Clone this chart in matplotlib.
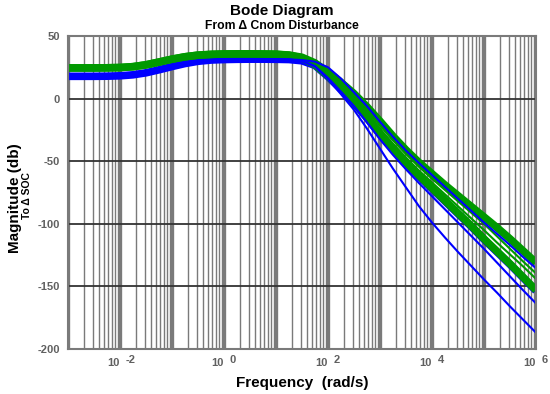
import matplotlib
matplotlib.use("Agg")
import matplotlib.pyplot as plt
import matplotlib.transforms as mtransforms

plt.rcParams['font.family'] = ['Liberation Sans', 'DejaVu Sans']
plt.rcParams['axes.unicode_minus'] = False

# frequency points (log10 of rad/s) where the magnitudes were read
log_freq = [-3, -2.75, -2.5, -2.25, -2, -1.75, -1.5, -1.25, -1, -0.75, -0.5, -0.25,
            0, 0.25, 0.5, 0.75, 1,
            1.25, 1.5, 1.75, 2, 2.25, 2.5, 2.75, 3, 3.25, 3.5, 3.75,
            4, 4.25, 4.5, 4.75, 5, 5.25, 5.5, 5.75, 6]

# low frequency part (up to 10 rad/s), shared inside each family (dB)
blue_lf = [17.8, 17.8, 17.8, 17.9, 18.2, 19, 20.6, 23, 25.6, 28, 29.8, 30.8,
           31.2, 31.4, 31.5, 31.5, 31.4]
green_lf = [24.5, 24.5, 24.5, 24.6, 24.8, 25.5, 27, 29.2, 31.5, 33.4, 34.7, 35.3,
            35.6, 35.7, 35.7, 35.6, 35.4]

# roll-off part, 10^1.25 .. 10^6 rad/s (dB)
blue_band_hf = [31.2, 30.2, 26.5, 17.5, 7.5, -3.5, -15.5, -28.5, -40.5, -51.5, -62,
                -72, -82, -92, -102, -112.5, -122.5, -132.5, -143, -153.5]
blue_top_hf = [31.3, 30.8, 29.5, 25, 16, 5, -6, -18.5, -30.5, -41.5, -51.5,
               -61, -70.5, -80, -89.5, -99, -108, -117, -126.5, -135.5]
blue_mid_hf = [31.2, 30.2, 26, 16.5, 5.5, -6, -19, -32.5, -45, -56.5, -67.5,
               -78, -88.5, -99, -109.5, -120, -131, -142, -153, -163.6]
blue_low_hf = [31.2, 30, 25.5, 15.5, 3.5, -9, -24, -40, -56, -71, -86,
               -99, -111, -122.5, -133.5, -144.5, -155, -166, -176.5, -187]
green_top_hf = [34.8, 33, 28.5, 21, 13, 4, -6.5, -18, -30, -41, -51,
                -60, -69, -77.5, -86, -94.5, -103, -112, -121.5, -131]
green_2_hf = [34.8, 33, 28, 20, 11.5, 2, -9, -21, -33, -44, -54.5,
              -64, -73, -82, -91, -100, -110, -120, -130, -139.6]
green_3_hf = [34.8, 32.8, 27.5, 19, 10, 0, -11, -24, -36, -47, -57.5,
              -67, -76.5, -86, -95.5, -105, -115, -124.5, -134, -144]
green_low_hf = [34.6, 32.5, 27, 18, 8, -3, -15, -28, -40, -51, -61.5,
                -71.5, -81.5, -91.5, -101.5, -112, -122, -132, -142.5, -153]

freq = [10.0 ** p for p in log_freq]

fig = plt.figure(figsize=(5.5, 3.94), dpi=100)
ax = fig.add_axes([68 / 550, 1 - 349 / 394, (536 - 68) / 550, (349 - 36) / 394])

# grid: a line on every minor step, dark lines on the y ticks
for d in range(-3, 6):
    for m in range(1, 10):
        lw = 2.4 if m == 1 else 1.0
        ax.axvline(m * 10.0 ** d, color='#7a7a7a', lw=lw, zorder=0)
for yv in [0, -50, -100, -150]:
    ax.axhline(yv, color='#333333', lw=1.3, zorder=0)

thick = dict(lw=5.5, solid_capstyle='butt')
ax.semilogx(freq, blue_lf + blue_band_hf, color='#0000ff', **thick)
ax.semilogx(freq, green_lf + green_top_hf, color='#009900', **thick)
ax.semilogx(freq, green_lf + green_low_hf, color='#009900', **thick)
ax.semilogx(freq, green_lf + green_2_hf, color='#009900', lw=1.5)
ax.semilogx(freq, green_lf + green_3_hf, color='#009900', lw=1.5)
ax.semilogx(freq, blue_lf + blue_top_hf, color='#0000ff', lw=1.5)
ax.semilogx(freq, blue_lf + blue_mid_hf, color='#0000ff', lw=1.5)
ax.semilogx(freq, blue_lf + blue_low_hf, color='#0000ff', lw=1.5)

ax.set_xlim(1e-3, 1e6)
ax.set_ylim(-200, 50)

# x tick labels written as "10" plus a raised exponent
xt = [1e-2, 1, 1e2, 1e4, 1e6]
xt_exp = ['-2', '0', '2', '4', '6']
ax.set_xticks(xt)
ax.set_xticklabels([])
ax.minorticks_off()
trans = mtransforms.blended_transform_factory(ax.transData, fig.transFigure)
trans_exp = mtransforms.offset_copy(trans, fig=fig, x=6, y=0, units='dots')
for x, e in zip(xt, xt_exp):
    ax.text(x, 1 - 363 / 394, '10', transform=trans, ha='right', va='center',
            fontsize=8, fontweight='bold', color='#606060', clip_on=False)
    ax.text(x, 1 - 360 / 394, e, transform=trans_exp, ha='left', va='center',
            fontsize=8, fontweight='bold', color='#606060', clip_on=False)

ax.set_yticks([50, 0, -50, -100, -150, -200])
ax.tick_params(length=0, colors='#606060', labelsize=8, pad=6)
for lab in ax.get_yticklabels():
    lab.set_fontweight('bold')

for sp in ax.spines.values():
    sp.set_color('#7a7a7a')
    sp.set_linewidth(1.5)

fig.text(282 / 550, 1 - 11 / 394, 'Bode Diagram', ha='center', va='center',
         fontsize=11, fontweight='bold')
fig.text(282 / 550, 1 - 26 / 394, 'From \u0394 Cnom Disturbance', ha='center', va='center',
         fontsize=8.7, fontweight='bold')
fig.text(302 / 550, 1 - 383 / 394, 'Frequency  (rad/s)', ha='center', va='center',
         fontsize=11, fontweight='bold')
fig.text(15 / 550, 1 - 198 / 394, 'Magnitude (db)', ha='center', va='center',
         rotation=90, fontsize=11, fontweight='bold')
fig.text(27 / 550, 1 - 196 / 394, 'To \u0394 SOC', ha='center', va='center',
         rotation=90, fontsize=7.5, fontweight='bold')

fig.savefig('out.png', dpi=100)
